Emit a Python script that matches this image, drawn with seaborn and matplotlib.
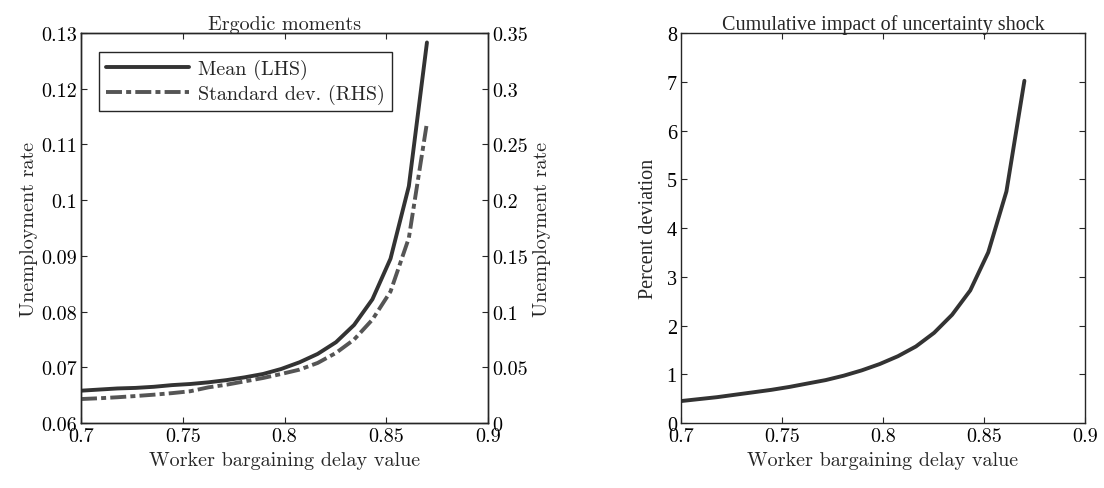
import matplotlib
matplotlib.use("Agg")
import matplotlib.pyplot as plt
import seaborn as sns
import pandas as pd

# Worker bargaining delay grid
delay = [0.7000, 0.7089, 0.7179, 0.7268, 0.7358, 0.7447, 0.7537, 0.7626,
         0.7716, 0.7805, 0.7895, 0.7984, 0.8074, 0.8163, 0.8253, 0.8342,
         0.8432, 0.8521, 0.8611, 0.8700]

# Ergodic moments of the unemployment rate
mean_u = [0.0658, 0.0660, 0.0662, 0.0663, 0.0665, 0.0668, 0.0670, 0.0673,
          0.0677, 0.0682, 0.0688, 0.0697, 0.0709, 0.0724, 0.0745, 0.0776,
          0.0822, 0.0895, 0.1025, 0.1283]
std_u = [0.0215, 0.0222, 0.0231, 0.0242, 0.0254, 0.0268, 0.0285, 0.0320,
         0.0344, 0.0374, 0.0404, 0.0440, 0.0479, 0.0539, 0.0629, 0.0749,
         0.0928, 0.1180, 0.1660, 0.2695]

# Cumulative impact of an uncertainty shock (percent)
impact = [0.45, 0.49, 0.53, 0.58, 0.63, 0.68, 0.74, 0.81,
          0.88, 0.97, 1.08, 1.21, 1.37, 1.57, 1.85, 2.22,
          2.72, 3.50, 4.75, 7.02]

x_ticks = [0.7, 0.75, 0.8, 0.85, 0.9]
x_ticklabels = ["0.7", "0.75", "0.8", "0.85", "0.9"]
lhs_ticks = [0.06, 0.07, 0.08, 0.09, 0.10, 0.11, 0.12, 0.13]
lhs_ticklabels = ["0.06", "0.07", "0.08", "0.09", "0.1", "0.11", "0.12", "0.13"]
rhs_ticks = [0.0, 0.05, 0.10, 0.15, 0.20, 0.25, 0.30, 0.35]
rhs_ticklabels = ["0", "0.05", "0.1", "0.15", "0.2", "0.25", "0.3", "0.35"]
pct_ticks = [0, 1, 2, 3, 4, 5, 6, 7, 8]
pct_ticklabels = ["0", "1", "2", "3", "4", "5", "6", "7", "8"]

df = pd.DataFrame({"delay": delay, "mean": mean_u, "std": std_u, "impact": impact})

sns.set_theme(style="ticks")
plt.rcParams["font.family"] = ["cmr10", "DejaVu Serif"]
plt.rcParams["mathtext.fontset"] = "cm"
plt.rcParams["axes.unicode_minus"] = False
plt.rcParams["lines.scale_dashes"] = False

CM = ["cmr10", "DejaVu Serif"]
TIMES = ["Liberation Serif", "DejaVu Serif"]
FS = 14.5
EDGE = "#262626"

fig = plt.figure(figsize=(11.04, 4.89), dpi=100)
ax = fig.add_axes([81 / 1104, 65 / 489, 407 / 1104, 390 / 489])
ax2 = ax.twinx()
bx = fig.add_axes([681 / 1104, 65 / 489, 404 / 1104, 390 / 489])

# Left panel: mean (LHS) and standard deviation (RHS)
sns.lineplot(data=df, x="delay", y="mean", ax=ax, color="#333333",
             linewidth=2.8, label="Mean (LHS)", legend=False)
sns.lineplot(data=df, x="delay", y="std", ax=ax2, color="#555555",
             linewidth=2.8, label="Standard dev. (RHS)", legend=False,
             dashes=False)
ax2.lines[0].set_dashes([11.5, 3.0, 3.6, 3.0])

ax.set_xlim(0.7, 0.9)
ax.set_ylim(0.06, 0.13)
ax2.set_ylim(0.0, 0.35)
ax.set_xticks(x_ticks)
ax.set_xticklabels(x_ticklabels, fontsize=FS, fontfamily=CM)
ax.set_yticks(lhs_ticks)
ax.set_yticklabels(lhs_ticklabels, fontsize=FS, fontfamily=CM)
ax2.set_yticks(rhs_ticks)
ax2.set_yticklabels(rhs_ticklabels, fontsize=FS, fontfamily=CM)
ax.set_xlabel("Worker bargaining delay value", fontsize=FS, fontfamily=CM, labelpad=4)
ax.set_ylabel("Unemployment rate", fontsize=FS, fontfamily=CM, labelpad=2)
ax2.set_ylabel("Unemployment rate", fontsize=FS, fontfamily=CM, labelpad=4)
ax.set_title("Ergodic moments", fontsize=FS, fontfamily=CM, pad=3)

ax.tick_params(axis="both", direction="in", length=4, width=0.8, color=EDGE,
               top=True, right=False, pad=3, labelcolor="black")
ax2.tick_params(axis="y", direction="in", length=4, width=0.8, color=EDGE,
                pad=3, labelcolor="black")
for a in (ax, ax2):
    for s in a.spines.values():
        s.set_color(EDGE)
        s.set_linewidth(1.0)

handles = ax.get_lines()[:1] + ax2.get_lines()[:1]
leg = ax2.legend(handles, [h.get_label() for h in handles],
                 loc="upper left", bbox_to_anchor=(0.044, 0.951),
                 borderaxespad=0, fancybox=False, framealpha=1,
                 edgecolor=EDGE, handlelength=4.1, handletextpad=0.45,
                 borderpad=0.35, labelspacing=0.25,
                 prop={"family": CM, "size": FS})
leg.get_frame().set_linewidth(1.0)

# Right panel: cumulative impact
sns.lineplot(data=df, x="delay", y="impact", ax=bx, color="#333333",
             linewidth=2.8, legend=False)
bx.set_xlim(0.7, 0.9)
bx.set_ylim(0, 8)
bx.set_xticks(x_ticks)
bx.set_xticklabels(x_ticklabels, fontsize=FS, fontfamily=CM)
bx.set_yticks(pct_ticks)
bx.set_yticklabels(pct_ticklabels, fontsize=FS, fontfamily=TIMES)
bx.set_xlabel("Worker bargaining delay value", fontsize=FS, fontfamily=CM, labelpad=4)
bx.set_ylabel("Percent deviation", fontsize=FS, fontfamily=TIMES, labelpad=6)
bx.set_title("Cumulative impact of uncertainty shock", fontsize=FS,
             fontfamily=TIMES, pad=3)
bx.tick_params(axis="both", direction="in", length=4, width=0.8, color=EDGE,
               top=True, right=True, pad=3, labelcolor="black")
for s in bx.spines.values():
    s.set_color(EDGE)
    s.set_linewidth(1.0)

fig.savefig("out.png", dpi=100, facecolor="white")
